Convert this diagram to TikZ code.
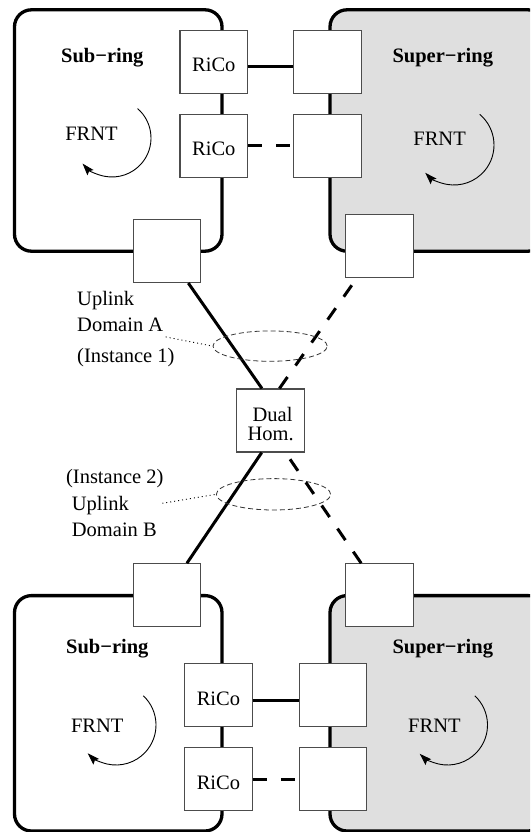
\documentclass[tikz,border=0pt]{standalone}
\usepackage{fontspec}
\setmainfont{Liberation Serif}
\usetikzlibrary{shapes.geometric,arrows.meta}
\begin{document}
\begin{tikzpicture}[x=1pt,y=-1pt,
  ringline/.style={line width=3.3pt, rounded corners=17pt},
  sq/.style={draw=black!70, line width=1.1pt, fill=white, minimum width=67.6pt,
    minimum height=63pt, inner sep=0pt, text height=19.8pt, text depth=0pt,
    font=\fontsize{20.5}{24}\selectfont},
  link/.style={line width=3pt},
  dlink/.style={line width=3pt, dash pattern=on 14pt off 14pt},
  lbl/.style={inner sep=0pt, font=\fontsize{20.5}{24}\selectfont},
  blbl/.style={inner sep=0pt, font=\fontsize{20.5}{24}\selectfont\bfseries},
  frnt/.style={line width=0.9pt, -{Stealth[length=12pt,width=8pt,inset=2pt]}},
  grp/.style={ellipse, draw=black!80, line width=0.8pt, dash pattern=on 5pt off 3pt, inner sep=0pt},
  leader/.style={line width=0.9pt, dash pattern=on 1pt off 3pt}
]
\useasboundingbox (0,0) rectangle (530,832);
\clip (0,0) rectangle (530,832);

% rings
\draw[ringline] (14.5,9.8) rectangle (222,251.2);
\draw[ringline, fill=gray!25] (330,9.8) rectangle (545,251.2);
\draw[ringline] (14.5,595.6) rectangle (222,831);
\draw[ringline, fill=gray!25] (330,595.6) rectangle (545,831);

% ring labels
\node[blbl, anchor=base] (lsubA) at (102.3,62.5) {Sub−ring};
\node[blbl, anchor=base] (lsupA) at (442.8,62.5) {Super−ring};
\node[blbl, anchor=base] (lsubB) at (107.3,653) {Sub−ring};
\node[blbl, anchor=base] (lsupB) at (442.8,653) {Super−ring};

% FRNT
\node[lbl] (fA) at (91.5,133.5) {FRNT};
\coordinate (cA) at (112,138);
\draw[frnt] ([shift={(-49:39)}]cA) arc[start angle=-49, end angle=139, radius=39];
\node[lbl] (fB) at (439.6,138.7) {FRNT};
\coordinate (cB) at (454,145);
\draw[frnt] ([shift={(-50:40)}]cB) arc[start angle=-50, end angle=136, radius=40];
\node[lbl] (fC) at (97.2,725.8) {FRNT};
\coordinate (cC) at (116,725);
\draw[frnt] ([shift={(-47:40)}]cC) arc[start angle=-47, end angle=135, radius=40];
\node[lbl] (fD) at (434.4,725.8) {FRNT};
\coordinate (cD) at (447.5,725);
\draw[frnt] ([shift={(-47:40)}]cD) arc[start angle=-47, end angle=134, radius=40];

% squares top
\node[sq] (rico1) at (213.8,61.85) {RiCo};
\node[sq] (rico2) at (213.8,145.9) {RiCo};
\node[sq] (r1) at (327.6,61.85) {};
\node[sq] (r2) at (327.6,145.9) {};
\node[sq] (subbot) at (167,251) {};
\node[sq] (supbot) at (379.3,245.75) {};
% dual homing
\node[sq] (dual) at (270.45,420.5) {};
\node[lbl, anchor=base] (dualt1) at (272.6,421) {Dual};
\node[lbl, anchor=base] (dualt2) at (270.6,440.7) {Hom.};
% squares bottom
\node[sq] (subtop) at (167,595.3) {};
\node[sq] (suptop) at (379.3,595.3) {};
\node[sq] (rico3) at (218.4,695.4) {RiCo};
\node[sq] (rico4) at (218.4,779.4) {RiCo};
\node[sq] (r3) at (333,695.4) {};
\node[sq] (r4) at (333,779.4) {};

% ring connections
\draw[link] ([yshift=-5pt]rico1.east) -- ([yshift=-5pt]r1.west);
\draw[dlink] (rico2.east) -- (r2.west);
\draw[link] ([yshift=-5pt]rico3.east) -- ([yshift=-5pt]r3.west);
\draw[dlink] (rico4.east) -- (r4.west);

% uplinks
\draw[link] ([xshift=21.3pt]subbot.south) -- ([xshift=-8.5pt]dual.north);
\draw[dlink] ([xshift=9pt]dual.north) -- ([xshift=-22.3pt]supbot.south);
\draw[link] ([xshift=-8.75pt]dual.south) -- ([xshift=19.9pt]subtop.north);
\draw[dlink] ([xshift=-18.1pt]suptop.north) -- ([xshift=15pt]dual.south);

% groups
\node[grp, minimum width=114.2pt, minimum height=30.4pt] (e1) at (270.1,346.1) {};
\node[grp, minimum width=114.2pt, minimum height=31.4pt] (e2) at (273.5,494.3) {};
\coordinate (lead1) at (165.7,336.9);
\coordinate (lead2) at (162.3,503.3);
\draw[leader] (lead1) -- (e1.west);
\draw[leader] (lead2) -- (e2.west);

% uplink labels
\node[lbl, anchor=base west] (ua1) at (77,305.5) {Uplink};
\node[lbl, anchor=base west] (ua2) at (77,331.9) {Domain A};
\node[lbl, anchor=base west] (ua3) at (77,362.5) {(Instance 1)};
\node[lbl, anchor=base west] (ub1) at (65.9,483.7) {(Instance 2)};
\node[lbl, anchor=base west] (ub2) at (71.7,510) {Uplink};
\node[lbl, anchor=base west] (ub3) at (71.7,536.4) {Domain B};
\end{tikzpicture}
\end{document}
